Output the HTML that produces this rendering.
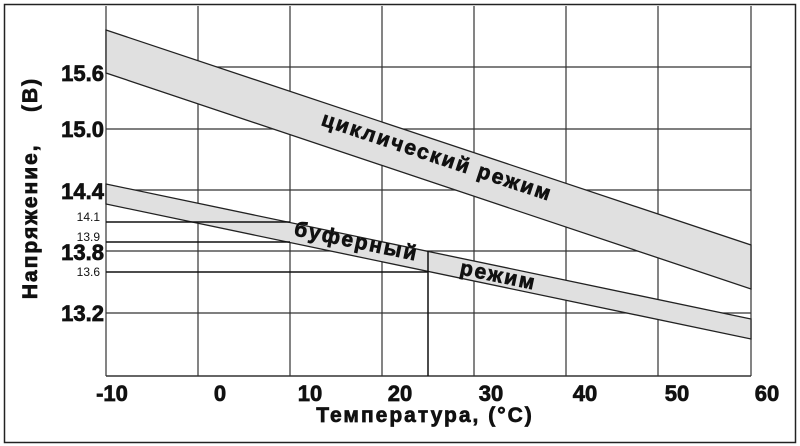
<!DOCTYPE html>
<html><head><meta charset="utf-8"><style>
body{margin:0;background:#fff;}
svg{display:block;}
.b{font-family:"Liberation Sans",sans-serif;font-weight:bold;fill:#111;stroke:#111;stroke-width:0.7;}
.s{font-family:"Liberation Sans Narrow","Liberation Sans",sans-serif;font-size:12px;fill:#111;}
</style></head><body>
<svg width="800" height="446" viewBox="0 0 800 446" xmlns="http://www.w3.org/2000/svg">
<rect x="0" y="0" width="800" height="446" fill="#fff"/>
<rect x="4.5" y="4.5" width="791" height="438" fill="none" stroke="#222" stroke-width="1.5"/>
<g stroke="#333" stroke-width="1.2">
<line x1="106" y1="6" x2="106" y2="376"/>
<line x1="198" y1="6" x2="198" y2="376"/>
<line x1="290" y1="6" x2="290" y2="376"/>
<line x1="382" y1="6" x2="382" y2="376"/>
<line x1="474" y1="6" x2="474" y2="376"/>
<line x1="566" y1="6" x2="566" y2="376"/>
<line x1="658" y1="6" x2="658" y2="376"/>
<line x1="751" y1="6" x2="751" y2="376"/>
<line x1="106" y1="67" x2="751" y2="67"/>
<line x1="106" y1="129" x2="751" y2="129"/>
<line x1="106" y1="190" x2="751" y2="190"/>
<line x1="106" y1="251" x2="751" y2="251"/>
<line x1="106" y1="313" x2="751" y2="313"/>
<line x1="106" y1="376" x2="751" y2="376" stroke-width="1.5"/>
</g>
<polygon points="106,30 751,245 751,289 106,73" fill="#e0e0e0" stroke="#222" stroke-width="1.3"/>
<polygon points="106,184 751,319 751,339 106,204" fill="#e0e0e0" stroke="#222" stroke-width="1.3"/>
<g stroke="#111" stroke-width="1.5">
<line x1="106" y1="222" x2="290" y2="222"/>
<line x1="106" y1="242" x2="290" y2="242"/>
<line x1="106" y1="272" x2="428" y2="272"/>
<line x1="428" y1="251" x2="428" y2="376"/>
</g>
<text class="b" font-size="21" transform="translate(435,163) rotate(18.4)" text-anchor="middle" letter-spacing="2">циклический режим</text>
<text class="b" font-size="21" transform="translate(355,248) rotate(11.8)" text-anchor="middle" letter-spacing="2">буферный</text>
<text class="b" font-size="21" transform="translate(497,282) rotate(11.8)" text-anchor="middle" letter-spacing="2">режим</text>
<g class="b" font-size="22" text-anchor="end">
<text x="104" y="81">15.6</text>
<text x="104" y="137">15.0</text>
<text x="104" y="199">14.4</text>
<text x="104" y="260">13.8</text>
<text x="104" y="321">13.2</text>
</g>
<g class="s" text-anchor="end">
<text x="100" y="221">14.1</text>
<text x="100" y="241">13.9</text>
<text x="100" y="276">13.6</text>
</g>
<g class="b" font-size="22" text-anchor="middle">
<text x="112" y="401">-10</text>
<text x="220" y="401">0</text>
<text x="310" y="401">10</text>
<text x="400" y="401">20</text>
<text x="491" y="401">30</text>
<text x="585" y="401">40</text>
<text x="677" y="401">50</text>
<text x="767" y="401">60</text>
</g>
<text class="b" font-size="21" x="425" y="422" text-anchor="middle" letter-spacing="2">Температура, (°C)</text>
<text class="b" font-size="21" transform="translate(37,188) rotate(-90)" text-anchor="middle" letter-spacing="2" xml:space="preserve">Напряжение,    (В)</text>
</svg>
</body></html>
